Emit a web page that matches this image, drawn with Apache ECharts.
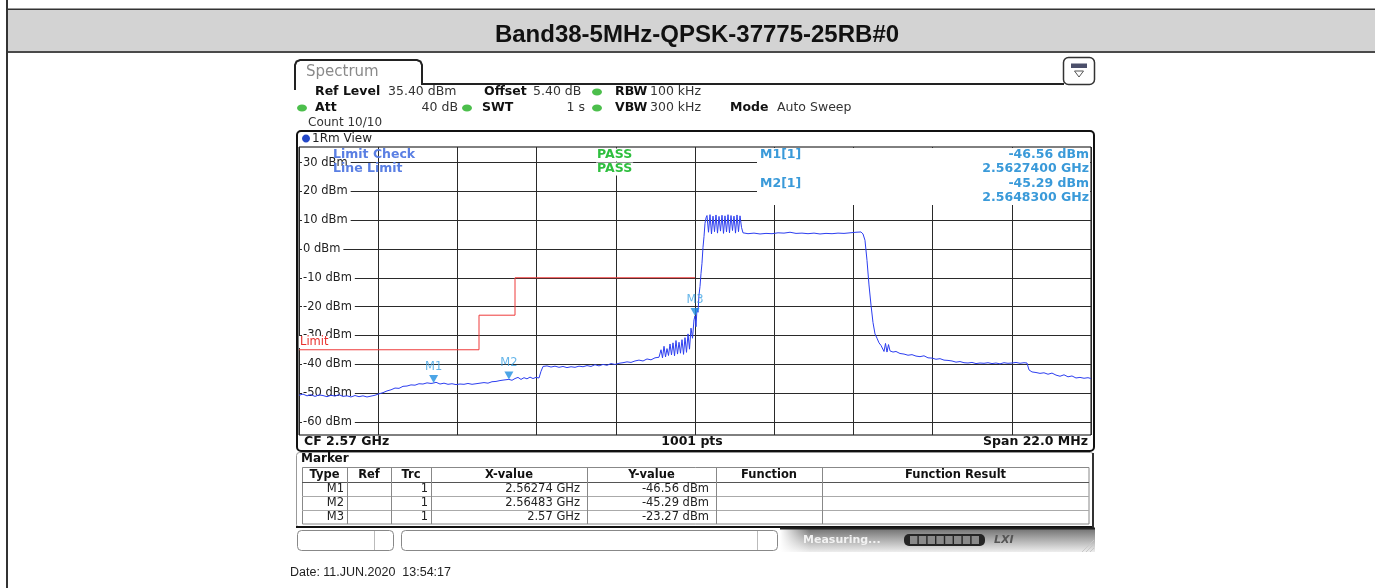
<!DOCTYPE html>
<html><head><meta charset="utf-8">
<script src="https://cdn.jsdelivr.net/npm/echarts@6/dist/echarts.min.js"></script>
<style>html,body{margin:0;padding:0;background:#fff}#c{width:1375px;height:588px}</style>
</head><body><div id="c"></div>
<script>
// ---------------- data ----------------
const titleText = 'Band38-5MHz-QPSK-37775-25RB#0';
const centerFreqGHz = 2.57;
const spanMHz = 22.0;
const sweepPoints = 1001;
const refLevelDbm = 35.40;
const rangeDb = 100;
const yTickValues = [30, 20, 10, 0, -10, -20, -30, -40, -50, -60];
const xDivisions = 10;

const settingLabels = ['Ref Level', 'Offset', 'RBW', 'Att', 'SWT', 'VBW', 'Mode'];
const settingValues = ['35.40 dBm', '5.40 dB', '100 kHz', '40 dB', '1 s', '300 kHz', 'Auto Sweep'];
const countText = 'Count 10/10';
const viewText = '1Rm View';
const limitCheckNames = ['Limit Check', 'Line Limit'];
const limitCheckResults = ['PASS', 'PASS'];
const dateText = 'Date: 11.JUN.2020  13:54:17';

const traceFreqMHz = [
2559.000,2559.111,2559.222,2559.333,2559.444,2559.556,2559.667,2559.778,2559.889,2560.000,
2560.111,2560.222,2560.333,2560.444,2560.556,2560.667,2560.778,2560.889,2561.000,2561.111,
2561.222,2561.333,2561.444,2561.556,2561.667,2561.778,2561.889,2562.000,2562.111,2562.222,
2562.333,2562.444,2562.556,2562.667,2562.740,2562.806,2562.917,2563.028,2563.139,2563.250,
2563.361,2563.472,2563.583,2563.694,2563.806,2563.917,2564.028,2564.139,2564.250,2564.361,
2564.472,2564.583,2564.694,2564.830,2564.917,2565.000,2565.083,2565.167,2565.250,2565.333,
2565.417,2565.500,2565.583,2565.667,2565.722,2565.778,2565.889,2566.000,2566.111,2566.222,
2566.333,2566.444,2566.556,2566.667,2566.778,2566.889,2567.000,2567.111,2567.222,2567.333,
2567.444,2567.556,2567.667,2567.778,2567.889,2568.000,2568.111,2568.222,2568.333,2568.444,
2568.556,2568.667,2568.778,2568.889,2569.000,
2569.056,2569.097,2569.139,2569.181,2569.222,2569.264,2569.306,2569.347,2569.389,2569.431,2569.472,2569.514,
2569.556,2569.597,2569.639,2569.681,2569.722,2569.764,2569.806,2569.847,2569.889,2569.931,2569.972,
2570.000,2570.028,2570.056,2570.083,2570.111,2570.139,2570.167,2570.194,2570.222,2570.250,2570.278,2570.306,
2570.333,2570.375,2570.417,2570.458,2570.500,2570.542,2570.583,2570.625,2570.667,2570.708,2570.750,2570.792,
2570.833,2570.875,2570.917,2570.958,2571.000,2571.042,2571.083,2571.125,2571.167,2571.208,2571.250,2571.292,2571.333,
2571.472,2571.639,2571.806,2571.972,2572.139,2572.306,2572.472,2572.639,2572.806,2572.972,2573.139,
2573.306,2573.472,2573.639,2573.806,2573.972,2574.139,2574.306,2574.472,2574.611,2574.667,
2574.722,2574.778,2574.833,2574.889,2574.944,2575.000,2575.056,2575.111,2575.167,2575.208,
2575.250,2575.292,2575.333,2575.375,2575.417,2575.500,2575.583,2575.694,2575.806,2575.917,
2576.028,2576.139,2576.250,2576.361,2576.472,2576.583,2576.694,2576.806,2576.917,2577.028,
2577.139,2577.250,2577.361,2577.472,2577.583,2577.694,2577.806,2577.917,2578.028,2578.139,
2578.250,2578.361,2578.472,2578.583,2578.694,2578.806,2578.917,2579.028,2579.139,2579.222,
2579.278,2579.361,2579.472,2579.583,2579.694,2579.806,2579.917,2580.028,2580.139,2580.250,
2580.361,2580.472,2580.583,2580.694,2580.806,2580.917,2581.000
];
const traceLevelDbm = [
-50.8,-50.4,-51.0,-50.6,-51.2,-50.7,-50.9,-51.3,-50.8,-51.1,
-50.6,-51.2,-51.0,-51.4,-50.9,-51.3,-51.0,-51.4,-51.1,-50.8,
-50.3,-49.9,-49.3,-48.9,-48.3,-48.4,-47.7,-47.6,-47.2,-47.3,
-46.8,-46.9,-46.5,-46.7,-46.56,-46.3,-46.9,-46.6,-47.0,-46.8,
-47.1,-46.9,-47.0,-46.7,-47.0,-46.8,-46.6,-46.4,-46.6,-46.1,
-46.0,-45.7,-45.5,-45.29,-45.6,-45.0,-44.6,-45.3,-44.7,-45.1,
-44.5,-45.0,-44.6,-44.8,-42.5,-40.8,-40.6,-41.0,-40.7,-41.1,
-40.8,-41.2,-40.9,-41.1,-40.7,-40.9,-40.5,-40.8,-40.2,-40.6,
-40.1,-40.4,-39.8,-40.1,-39.7,-39.5,-39.2,-39.4,-38.9,-38.6,
-38.9,-38.2,-38.5,-37.8,-37.6,
-35.0,-37.8,-33.8,-37.5,-34.6,-37.0,-33.0,-36.8,-32.6,-37.1,-31.8,-36.5,
-32.4,-36.2,-31.5,-36.6,-30.8,-35.9,-29.5,-34.8,-27.5,-31.0,-24.6,
-23.27,-27.0,-20.5,-22.0,-16.0,-13.0,-8.5,-5.0,0.5,4.3,8.9,10.8,
11.6,5.8,11.9,5.2,11.4,6.0,11.8,5.5,11.3,6.2,11.7,5.4,
11.5,5.9,11.9,5.6,11.6,6.4,11.4,5.5,11.8,6.0,11.5,7.5,5.6,
5.3,5.5,5.2,5.4,5.3,5.6,5.5,5.8,5.4,5.5,5.3,
5.5,5.2,5.4,5.3,5.5,5.4,5.6,5.8,5.9,5.2,
3.0,-4.0,-12.5,-19.5,-25.5,-29.5,-31.0,-32.6,-33.5,-33.0,
-35.6,-32.8,-35.8,-33.2,-35.4,-35.8,-35.6,-36.3,-36.5,-36.9,
-36.7,-37.2,-37.4,-37.1,-37.8,-37.9,-38.3,-38.1,-38.6,-38.7,
-38.9,-39.3,-39.1,-39.5,-39.6,-39.4,-39.8,-39.6,-39.7,-39.5,
-39.8,-39.6,-39.9,-39.5,-39.7,-39.6,-39.4,-39.7,-39.5,-39.6,
-42.0,-42.7,-42.9,-43.2,-43.0,-43.5,-43.1,-43.8,-44.2,-43.7,
-44.4,-44.1,-44.8,-44.6,-44.9,-44.7,-45.0
];

const limitFreqMHz = [2559, 2564, 2564, 2565, 2565, 2570];
const limitLevelDbm = [-35, -35, -23, -23, -10, -10];
const limitName = 'Limit';

const markerNames = ['M1', 'M2', 'M3'];
const markerTrace = [1, 1, 1];
const markerFreqGHz = [2.56274, 2.56483, 2.57];
const markerLevelDbm = [-46.56, -45.29, -23.27];
const markerInfoCount = 2;
const tableHeaders = ['Type', 'Ref', 'Trc', 'X-value', 'Y-value', 'Function', 'Function Result'];

// ---------------- derived ----------------
const fStartMHz = centerFreqGHz * 1000 - spanMHz / 2;
const traceData = traceFreqMHz.map((f, i) => [f - fStartMHz, traceLevelDbm[i]]);
const limitData = limitFreqMHz.map((f, i) => [f - fStartMHz, limitLevelDbm[i]]);
const markerData = markerNames.map((n, i) => ({ name: n, value: [markerFreqGHz[i] * 1000 - fStartMHz, markerLevelDbm[i]] }));

// ---------------- decorations ----------------
const FONT = 'DejaVu Sans';
const G = [];
function T(x, y, text, o = {}) {
  const st = { text, fill: o.c || '#222', fontSize: o.s || 12.5, fontFamily: o.f || FONT,
    fontWeight: o.b ? 'bold' : 'normal', fontStyle: o.i ? 'italic' : 'normal',
    align: o.a || 'left', verticalAlign: 'middle', textAlign: o.a || 'left', textVerticalAlign: 'middle' };
  if (o.bg) { st.backgroundColor = o.bg; st.padding = o.pad || [0, 1, 0, 1]; }
  G.push({ type: 'text', x, y, z: o.z == null ? 20 : o.z, silent: true, style: st });
}
function R(x, y, w, h, o = {}) {
  G.push({ type: 'rect', z: o.z == null ? 10 : o.z, silent: true, shape: { x, y, width: w, height: h, r: o.r || 0 },
    style: { fill: o.fill || 'none', stroke: o.stroke || null, lineWidth: o.lw || 1 } });
}
function L(x1, y1, x2, y2, o = {}) {
  G.push({ type: 'line', z: o.z == null ? 10 : o.z, silent: true, shape: { x1, y1, x2, y2 },
    style: { stroke: o.stroke || '#000', lineWidth: o.lw || 1 } });
}
function dot(cx, cy, color, rx, ry) {
  G.push({ type: 'ellipse', z: 15, silent: true, shape: { cx, cy, rx, ry }, style: { fill: color, stroke: null } });
}

// page frame + title bar
R(8, 9, 1367, 43, { fill: '#d3d3d3', z: 0 });
L(8, 9.25, 1375, 9.25, { stroke: '#333', lw: 1.5, z: 1 });
L(8, 52, 1375, 52, { stroke: '#4a4a4a', lw: 2, z: 1 });
L(7, 0, 7, 588, { stroke: '#333', lw: 2, z: 1 });

// Spectrum tab + header line
G.push({ type: 'polyline', z: 10, silent: true,
  shape: { points: [[295, 90], [295, 65], [296.5, 61.5], [300, 60], [417, 60], [420.5, 61.5], [422, 65], [422, 84], [1064, 84]] },
  style: { stroke: '#222', lineWidth: 2, fill: null } });
T(306, 72, 'Spectrum', { c: '#8a8a8a', s: 15 });
// button top right
R(1063.5, 57.5, 31, 27, { r: 5, stroke: '#333', lw: 1.5, fill: '#fff' });
R(1071, 63.5, 16, 4.5, { fill: '#4b4f6a', z: 11 });
G.push({ type: 'polyline', z: 11, silent: true, shape: { points: [[1074.5, 71], [1083.5, 71], [1079, 77], [1074.5, 71]] }, style: { stroke: '#555', lineWidth: 1, fill: null } });

// settings
const r1 = 92, r2 = 108;
T(315, r1, settingLabels[0], { b: true, c: '#111' }); T(388, r1, settingValues[0], { c: '#333' });
T(484, r1, settingLabels[1], { b: true, c: '#111' }); T(533, r1, settingValues[1], { c: '#333' });
dot(597, r1, '#4cbf4c', 5, 3.5);
T(615, r1, settingLabels[2], { b: true, c: '#111' }); T(650, r1, settingValues[2], { c: '#333' });
dot(302, r2, '#4cbf4c', 5, 3.5);
T(315, r2, settingLabels[3], { b: true, c: '#111' }); T(458, r2, settingValues[3], { c: '#333', a: 'right' });
dot(467, r2, '#4cbf4c', 5, 3.5);
T(482, r2, settingLabels[4], { b: true, c: '#111' }); T(585, r2, settingValues[4], { c: '#333', a: 'right' });
dot(597, r2, '#4cbf4c', 5, 3.5);
T(615, r2, settingLabels[5], { b: true, c: '#111' }); T(650, r2, settingValues[5], { c: '#333' });
T(730, r2, settingLabels[6], { b: true, c: '#111' }); T(777, r2, settingValues[6], { c: '#333' });
T(308, 123, countText, { c: '#333', s: 12 });

// plot frame
R(297, 131, 797, 320, { r: 4, stroke: '#111', lw: 2 });
dot(306, 138.5, '#2448c8', 4, 4);
T(312, 139, viewText, { c: '#222', s: 12 });

// cover for marker info region (above grid lines, below texts)
R(757, 148, 333, 57, { fill: '#fff', z: 5.5 });

// limit check texts
T(333, 155, limitCheckNames[0], { b: true, c: '#5a7fe3' });
T(333, 169, limitCheckNames[1], { b: true, c: '#5a7fe3' });
T(596, 155, limitCheckResults[0], { b: true, c: '#2fbf3f', bg: '#fff' });
T(596, 169, limitCheckResults[1], { b: true, c: '#2fbf3f', bg: '#fff' });
T(299, 342, limitName, { c: '#e8302c', s: 11.5, bg: '#fff', pad: [0, 1, 0, 1] });

// marker info (top right)
for (let i = 0; i < markerInfoCount; i++) {
  const y = 155 + 29 * i;
  T(760, y, `${markerNames[i]}[${markerTrace[i]}]`, { b: true, c: '#3a9ad9' });
  T(1089, y, `${markerLevelDbm[i].toFixed(2)} dBm`, { b: true, c: '#3a9ad9', a: 'right' });
  T(1089, y + 14, `${markerFreqGHz[i].toFixed(7)} GHz`, { b: true, c: '#3a9ad9', a: 'right' });
}

// CF row
T(304, 442, `CF ${centerFreqGHz} GHz`, { b: true, c: '#111' });
T(692, 442, `${sweepPoints} pts`, { b: true, c: '#111', a: 'center' });
T(1088, 442, `Span ${spanMHz.toFixed(1)} MHz`, { b: true, c: '#111', a: 'right' });

// Marker table panel
R(296.5, 452.5, 797, 75, { r: 3, stroke: '#999', lw: 1 });
L(296, 527, 1094, 527, { stroke: '#111', lw: 2 });
L(1093, 453, 1093, 528, { stroke: '#333', lw: 2 });
T(301, 459, 'Marker', { b: true, c: '#111', s: 12 });
const cols = [302, 347, 391, 431, 587, 716, 822, 1089];
R(302.5, 467.5, 786.5, 56.5, { stroke: '#888' });
L(302, 482.5, 1089, 482.5, { stroke: '#555' });
L(302, 496.5, 1089, 496.5, { stroke: '#aaa' });
L(302, 510.5, 1089, 510.5, { stroke: '#aaa' });
for (let k = 1; k < cols.length - 1; k++) L(cols[k] + 0.5, 467, cols[k] + 0.5, 524, { stroke: '#888' });
tableHeaders.forEach((h, k) => T((cols[k] + cols[k + 1]) / 2, 475, h, { b: true, c: '#111', s: 11.5, a: 'center' }));
markerNames.forEach((n, i) => {
  const y = 489.5 + 14 * i;
  const fx = parseFloat(markerFreqGHz[i].toFixed(5));
  T(344, y, n, { s: 11.5, a: 'right' });
  T(428, y, String(markerTrace[i]), { s: 11.5, a: 'right' });
  T(580, y, `${fx} GHz`, { s: 11.5, a: 'right' });
  T(709, y, `${markerLevelDbm[i].toFixed(2)} dBm`, { s: 11.5, a: 'right' });
});

// status bar
R(297.5, 530.5, 96, 20, { r: 4, stroke: '#888', fill: '#fff' });
L(374.5, 531, 374.5, 550, { stroke: '#bbb' });
R(401.5, 530.5, 376, 20, { r: 4, stroke: '#888', fill: '#fff' });
L(757.5, 531, 757.5, 550, { stroke: '#bbb' });
G.push({ type: 'rect', z: 9, silent: true, shape: { x: 780, y: 528, width: 315, height: 24 },
  style: { fill: { type: 'linear', x: 0, y: 0, x2: 0, y2: 1, colorStops: [{ offset: 0, color: '#6e6e6e' }, { offset: 0.45, color: '#a9a9a9' }, { offset: 1, color: '#eeeeee' }] } } });
G.push({ type: 'rect', z: 9.5, silent: true, shape: { x: 780, y: 528, width: 30, height: 24 },
  style: { fill: { type: 'linear', x: 0, y: 0, x2: 1, y2: 0, colorStops: [{ offset: 0, color: 'rgba(255,255,255,1)' }, { offset: 1, color: 'rgba(255,255,255,0)' }] } } });
L(780, 528.5, 1095, 528.5, { stroke: '#222', lw: 2 });
T(803, 540, 'Measuring...', { b: true, c: '#f2f2f2', s: 11 });
R(904, 534, 81, 12, { r: 5, fill: '#252525' });
for (let k = 0; k < 8; k++) R(910 + k * 8.8, 536, 7.4, 8, { fill: '#8a8a8a', z: 11 });
T(994, 540, 'LXI', { b: true, i: true, c: '#555', s: 11 });
for (let k = 0; k < 4; k++) L(1082 + k * 4, 552, 1094, 540 + k * 4, { stroke: '#c8c8c8', lw: 1 });

// date
T(290, 573, dateText, { f: 'Liberation Sans', s: 12.5, c: '#222' });

// ---------------- chart ----------------
const chart = echarts.init(document.getElementById('c'), null, { renderer: 'canvas', width: 1375, height: 588 });
chart.setOption({
  animation: false,
  backgroundColor: '#fff',
  title: { text: titleText, left: 692, top: 18, textAlign: 'center',
    textStyle: { fontFamily: 'Liberation Sans', fontWeight: 'bold', fontSize: 24, color: '#111' } },
  grid: { left: 299, top: 147, width: 792, height: 288, show: true, borderColor: '#000', borderWidth: 1,
    backgroundColor: 'transparent', containLabel: false, outerBoundsMode: 'none' },
  xAxis: { type: 'value', min: 0, max: spanMHz, interval: spanMHz / xDivisions, z: 0,
    axisLine: { show: false }, axisTick: { show: false }, axisLabel: { show: false },
    splitLine: { show: true, lineStyle: { color: '#2a2a2a', width: 1, type: 'solid' } } },
  yAxis: { type: 'value', min: refLevelDbm - rangeDb, max: refLevelDbm, z: 3,
    axisLine: { show: false },
    axisTick: { show: false, customValues: yTickValues },
    splitLine: { show: false },
    axisLabel: { show: true, inside: true, margin: 3, customValues: yTickValues,
      formatter: v => `${v} dBm`, color: '#222', fontFamily: FONT, fontSize: 11.5,
      backgroundColor: '#fff', padding: [0, 3, 0, 1] } },
  graphic: { elements: G },
  series: [
    { type: 'line', name: 'grid', data: [], z: 1, silent: true,
      markLine: { z: 1, silent: true, symbol: ['none', 'none'], label: { show: false },
        lineStyle: { color: '#2a2a2a', width: 1, type: 'solid' }, animation: false,
        emphasis: { disabled: true },
        data: yTickValues.map(v => ({ yAxis: v })) } },
    { type: 'line', name: limitName, data: limitData, z: 4, showSymbol: false, silent: true,
      lineStyle: { color: '#ee3b3b', width: 1 } },
    { type: 'line', name: 'Trace 1', data: traceData, z: 5, showSymbol: false, silent: true, sampling: null,
      lineStyle: { color: '#2c3ef0', width: 1 } },
    { type: 'scatter', name: 'Markers', data: markerData, z: 6, silent: true,
      symbol: 'path://M0,0 L10,0 L5,9 Z', symbolSize: [9, 8], symbolOffset: [0, '-50%'],
      itemStyle: { color: '#1f8fe0' },
      label: { show: true, position: 'top', distance: 2, formatter: p => p.name,
        color: '#3ea3e3', fontFamily: FONT, fontSize: 11.5 } }
  ]
});
</script>
</body></html>
